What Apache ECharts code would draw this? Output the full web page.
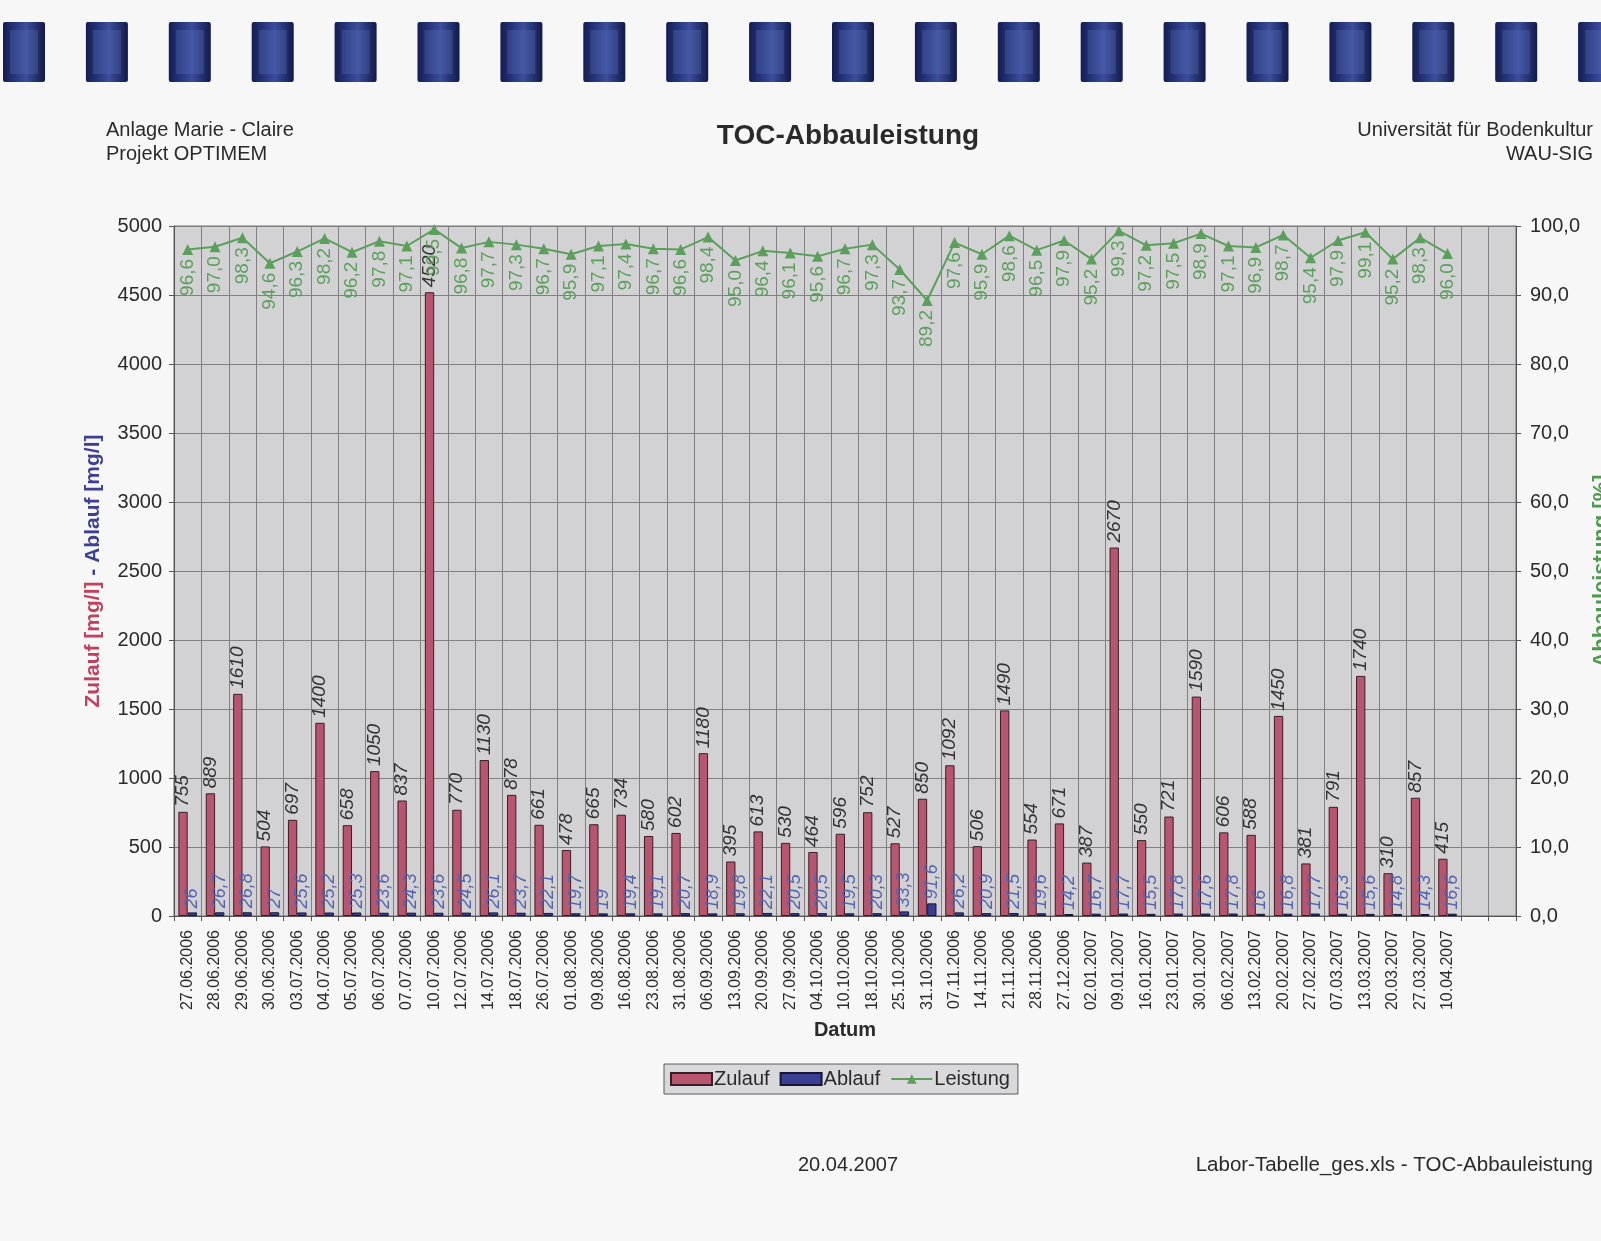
<!DOCTYPE html>
<html>
<head>
<meta charset="utf-8">
<title>TOC-Abbauleistung</title>
<script src="https://cdn.jsdelivr.net/npm/echarts@6/dist/echarts.min.js"></script>
<style>
  html, body { margin: 0; padding: 0; background: #f7f7f7; }
  #chart { width: 1601px; height: 1241px; }
</style>
</head>
<body>
<div id="chart"></div>
<script>
// Sampling dates (Datum)
const categories = [
  '27.06.2006', '28.06.2006', '29.06.2006', '30.06.2006', '03.07.2006', '04.07.2006',
  '05.07.2006', '06.07.2006', '07.07.2006', '10.07.2006', '12.07.2006', '14.07.2006',
  '18.07.2006', '26.07.2006', '01.08.2006', '09.08.2006', '16.08.2006', '23.08.2006',
  '31.08.2006', '06.09.2006', '13.09.2006', '20.09.2006', '27.09.2006', '04.10.2006',
  '10.10.2006', '18.10.2006', '25.10.2006', '31.10.2006', '07.11.2006', '14.11.2006',
  '21.11.2006', '28.11.2006', '27.12.2006', '02.01.2007', '09.01.2007', '16.01.2007',
  '23.01.2007', '30.01.2007', '06.02.2007', '13.02.2007', '20.02.2007', '27.02.2007',
  '07.03.2007', '13.03.2007', '20.03.2007', '27.03.2007', '10.04.2007'
];

// TOC inflow [mg/l]
const zulauf = [
  755, 889, 1610, 504, 697, 1400, 658, 1050, 837, 4520, 770, 1130,
  878, 661, 478, 665, 734, 580, 602, 1180, 395, 613, 530, 464,
  596, 752, 527, 850, 1092, 506, 1490, 554, 671, 387, 2670, 550,
  721, 1590, 606, 588, 1450, 381, 791, 1740, 310, 857, 415
];

// TOC outflow [mg/l]
const ablauf = [
  26, 26.7, 26.8, 27, 25.6, 25.2, 25.3, 23.6, 24.3, 23.6, 24.5, 26.1,
  23.7, 22.1, 19.7, 19, 19.4, 19.1, 20.7, 18.9, 19.8, 22.1, 20.5, 20.5,
  19.5, 20.3, 33.3, 91.6, 26.2, 20.9, 21.5, 19.6, 14.2, 16.7, 17.7, 15.5,
  17.8, 17.6, 17.8, 16, 16.8, 17.7, 16.3, 15.6, 14.8, 14.3, 16.6
];

// Removal efficiency [%]
const leistung = [
  96.6, 97.0, 98.3, 94.6, 96.3, 98.2, 96.2, 97.8, 97.1, 99.5, 96.8, 97.7,
  97.3, 96.7, 95.9, 97.1, 97.4, 96.7, 96.6, 98.4, 95.0, 96.4, 96.1, 95.6,
  96.7, 97.3, 93.7, 89.2, 97.6, 95.9, 98.6, 96.5, 97.9, 95.2, 99.3, 97.2,
  97.5, 98.9, 97.1, 96.9, 98.7, 95.4, 97.9, 99.1, 95.2, 98.3, 96.0
];

// Two spare date slots stay empty at the right end of the axis
const spareSlots = ['', ''];

const FONT = 'Liberation Sans, Arial, Helvetica, sans-serif';
const comma = v => String(v).replace('.', ',');
const comma1 = v => Number(v).toFixed(1).replace('.', ',');

// Binder rings along the top edge of the sheet
function binderRings() {
  const rings = [];
  for (let i = 0; i < 20; i++) {
    const cx = 24 + i * 82.9;
    rings.push({
      type: 'rect',
      silent: true,
      shape: { x: cx - 21, y: 22, width: 42, height: 60, r: 2 },
      style: {
        fill: {
          type: 'linear', x: 0, y: 0, x2: 1, y2: 0,
          colorStops: [
            { offset: 0, color: '#141d52' },
            { offset: 0.35, color: '#2c3b86' },
            { offset: 0.55, color: '#3c4e9c' },
            { offset: 1, color: '#121a4a' }
          ]
        }
      }
    });
    rings.push({
      type: 'rect',
      silent: true,
      shape: { x: cx - 14, y: 30, width: 28, height: 44 },
      style: { fill: 'rgba(90,110,180,0.35)' }
    });
  }
  return rings;
}

function pageText(text, x, y, opts) {
  return {
    type: 'text',
    silent: true,
    x: x, y: y,
    style: Object.assign({
      text: text,
      font: '20px ' + FONT,
      fill: '#2a2a2a',
      align: 'left',
      verticalAlign: 'middle'
    }, opts || {})
  };
}

const chart = echarts.init(document.getElementById('chart'), null, { renderer: 'canvas' });

chart.setOption({
  backgroundColor: '#f7f7f7',
  animation: false,
  textStyle: { fontFamily: FONT },
  graphic: binderRings().concat([
    pageText('Anlage Marie - Claire', 106, 130),
    pageText('Projekt OPTIMEM', 106, 154),
    pageText('TOC-Abbauleistung', 848, 136, { font: 'bold 28px ' + FONT, align: 'center' }),
    pageText('Universität für Bodenkultur', 1593, 130, { align: 'right' }),
    pageText('WAU-SIG', 1593, 154, { align: 'right' }),
    pageText('20.04.2007', 848, 1165, { align: 'center' }),
    pageText('Labor-Tabelle_ges.xls - TOC-Abbauleistung', 1593, 1165, { align: 'right', font: '20.5px ' + FONT })
  ]),
  grid: {
    left: 174, top: 226, width: 1342, height: 690,
    containLabel: false,
    outerBoundsMode: 'none',
    show: true,
    backgroundColor: '#d2d2d4',
    borderColor: '#6a6a6a',
    borderWidth: 1
  },
  legend: {
    left: 664, top: 1064,
    backgroundColor: '#d9d9db',
    borderColor: '#5a5a5a',
    borderWidth: 1,
    borderRadius: 0,
    padding: [5, 8, 5, 6],
    itemGap: 10,
    itemWidth: 41,
    itemHeight: 12,
    textStyle: { fontSize: 20, color: '#2a2a2a', padding: [0, 0, 0, -3] },
    data: [
      { name: 'Zulauf', icon: 'rect' },
      { name: 'Ablauf', icon: 'rect' },
      { name: 'Leistung' }
    ]
  },
  xAxis: {
    type: 'category',
    data: categories.concat(spareSlots),
    boundaryGap: true,
    name: 'Datum',
    nameLocation: 'middle',
    nameGap: 104,
    nameTextStyle: { fontSize: 20, fontWeight: 'bold', color: '#2a2a2a' },
    axisLine: { lineStyle: { color: '#555', width: 1 } },
    axisTick: { show: true, length: 5, lineStyle: { color: '#555' } },
    axisLabel: { rotate: 90, fontSize: 16, color: '#2a2a2a', margin: 14, interval: 0 },
    splitLine: { show: true, lineStyle: { color: '#808080', width: 1 } }
  },
  yAxis: [
    {
      type: 'value',
      min: 0, max: 5000, interval: 500,
      name: '{r|Zulauf [mg/l]}{b| - Ablauf [mg/l]}',
      nameLocation: 'middle',
      nameRotate: 90,
      nameGap: 70,
      nameTextStyle: {
        rich: {
          r: { fontSize: 21, fontWeight: 'bold', color: '#c0405e' },
          b: { fontSize: 21, fontWeight: 'bold', color: '#3d3f94' }
        }
      },
      axisLine: { show: true, lineStyle: { color: '#555' } },
      axisTick: { show: true, length: 5, lineStyle: { color: '#555' } },
      axisLabel: { fontSize: 20, color: '#2a2a2a', margin: 12, formatter: v => String(v) },
      splitLine: { show: true, lineStyle: { color: '#808080', width: 1 } }
    },
    {
      type: 'value',
      min: 0, max: 100, interval: 10,
      position: 'right',
      name: 'Abbauleistung [%]',
      nameLocation: 'middle',
      nameRotate: 90,
      nameGap: 74,
      nameTextStyle: { fontSize: 22, fontWeight: 'bold', color: '#4f9a4f' },
      axisLine: { show: true, lineStyle: { color: '#555' } },
      axisTick: { show: true, length: 5, lineStyle: { color: '#555' } },
      axisLabel: { fontSize: 20, color: '#2a2a2a', margin: 14, formatter: comma1 },
      splitLine: { show: false }
    }
  ],
  series: [
    {
      name: 'Zulauf',
      type: 'bar',
      yAxisIndex: 0,
      data: zulauf,
      barGap: '0%',
      barCategoryGap: '32%',
      itemStyle: { color: '#b9566f', borderColor: '#3a1e26', borderWidth: 1 },
      label: {
        show: true,
        position: 'top',
        rotate: 90,
        align: 'left',
        verticalAlign: 'middle',
        distance: 5,
        fontSize: 19,
        fontStyle: 'italic',
        color: '#333',
        formatter: p => comma(p.value)
      },
      z: 2
    },
    {
      name: 'Ablauf',
      type: 'bar',
      yAxisIndex: 0,
      data: ablauf,
      barGap: '0%',
      barCategoryGap: '32%',
      itemStyle: { color: '#3b3f93', borderColor: '#15163a', borderWidth: 1 },
      label: {
        show: true,
        position: 'top',
        rotate: 90,
        align: 'left',
        verticalAlign: 'middle',
        distance: 4,
        fontSize: 18,
        fontStyle: 'italic',
        color: '#5663ad',
        formatter: p => comma(p.value)
      },
      z: 2
    },
    {
      name: 'Leistung',
      type: 'line',
      yAxisIndex: 1,
      data: leistung,
      symbol: 'triangle',
      symbolSize: 11,
      color: '#5c9f5c',
      lineStyle: { color: '#5c9f5c', width: 2 },
      itemStyle: { color: '#5c9f5c' },
      label: {
        show: true,
        position: 'bottom',
        rotate: 90,
        align: 'right',
        verticalAlign: 'middle',
        distance: 4,
        fontSize: 19,
        color: '#5c9f5c',
        formatter: p => comma1(p.value)
      },
      z: 3
    }
  ]
});
</script>
</body>
</html>
